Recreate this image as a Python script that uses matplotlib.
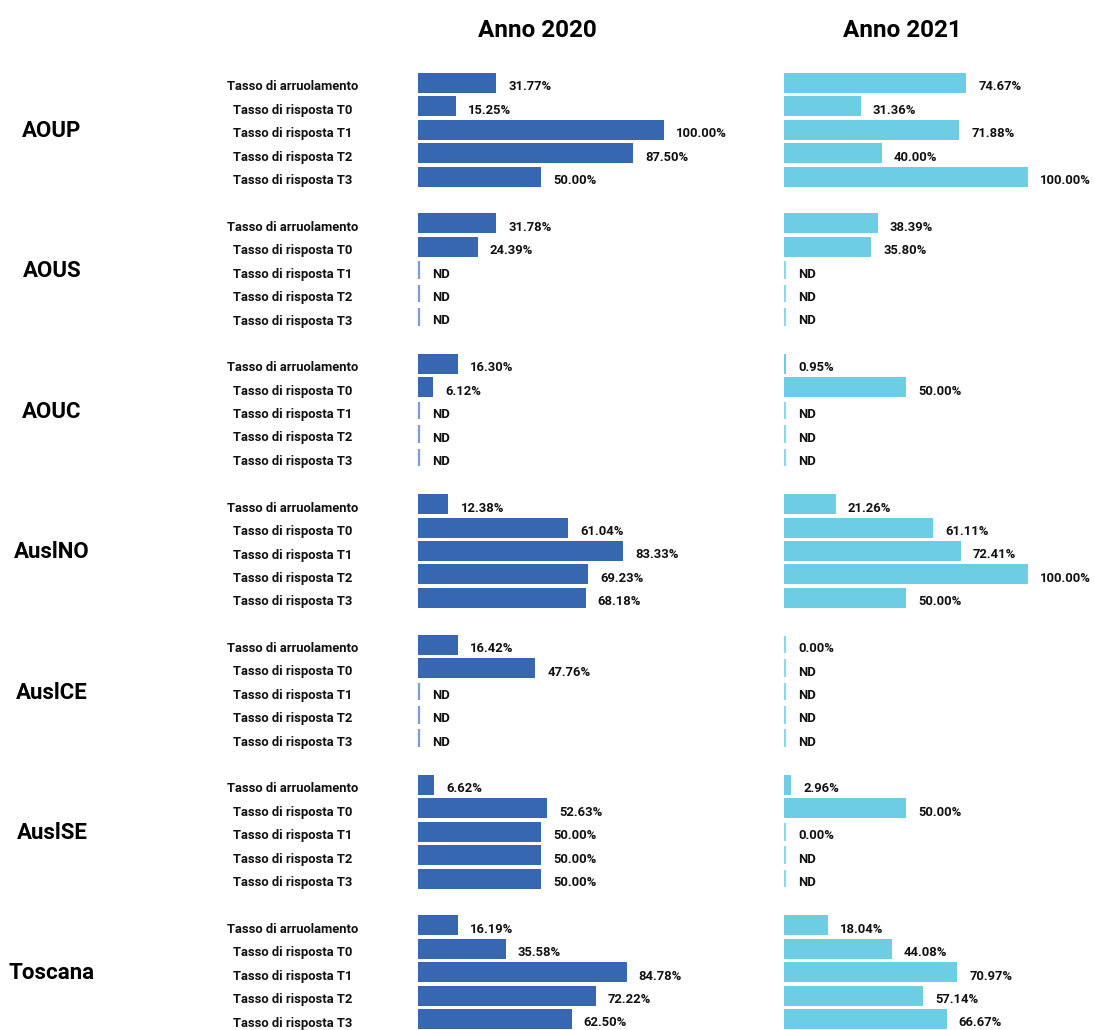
import matplotlib
matplotlib.use("Agg")
import matplotlib.pyplot as plt
import numpy as np

plt.rcParams['font.family'] = ['Roboto', 'DejaVu Sans']

groups = ["AOUP", "AOUS", "AOUC", "AuslNO", "AuslCE", "AuslSE", "Toscana"]
metrics = ["Tasso di arruolamento", "Tasso di risposta T0", "Tasso di risposta T1",
           "Tasso di risposta T2", "Tasso di risposta T3"]
years = ["Anno 2020", "Anno 2021"]

ND = None
values_2020 = [
    [31.77, 15.25, 100.00, 87.50, 50.00],
    [31.78, 24.39, ND, ND, ND],
    [16.30, 6.12, ND, ND, ND],
    [12.38, 61.04, 83.33, 69.23, 68.18],
    [16.42, 47.76, ND, ND, ND],
    [6.62, 52.63, 50.00, 50.00, 50.00],
    [16.19, 35.58, 84.78, 72.22, 62.50],
]
values_2021 = [
    [74.67, 31.36, 71.88, 40.00, 100.00],
    [38.39, 35.80, ND, ND, ND],
    [0.95, 50.00, ND, ND, ND],
    [21.26, 61.11, 72.41, 100.00, 50.00],
    [0.00, ND, ND, ND, ND],
    [2.96, 50.00, 0.00, ND, ND],
    [18.04, 44.08, 70.97, 57.14, 66.67],
]

colors = ["#3767B1", "#6DCDE3"]
line_colors = ["#7E9ED3", "#8ED8EA"]

W, H = 1095, 1030
fig = plt.figure(figsize=(W / 100, H / 100), dpi=100)

row_px = 23.4
y0_px = 83.0
ylim = ((H - y0_px) / row_px, -y0_px / row_px)
text_off = 4.0 / row_px
small_fs = 9.4

def add_axes_px(x0, x1):
    ax = fig.add_axes([x0 / W, 0, (x1 - x0) / W, 1])
    ax.set_ylim(*ylim)
    ax.axis('off')
    return ax

# label axes (full width, pixel x coords)
lab = add_axes_px(0, W)
lab.set_xlim(0, W)

panels = [(418, 664), (784, 1028)]
data = [values_2020, values_2021]

for p, ((x0, x1), vals) in enumerate(zip(panels, data)):
    ax = add_axes_px(x0, x1)
    ax.set_xlim(0, 100)
    px_per_unit = (x1 - x0) / 100.0
    for g, grp in enumerate(vals):
        for r, v in enumerate(grp):
            k = g * 6 + r
            if v is None or v == 0:
                ax.plot([0.45, 0.45], [k - 0.38, k + 0.38], color=line_colors[p],
                        lw=1.6, solid_capstyle='butt', clip_on=False)
                txt = "ND" if v is None else f"{v:.2f}%"
                ax.text(14 / px_per_unit, k + text_off, txt, fontsize=small_fs,
                        fontweight='bold', va='center', ha='left', color='#111111')
            else:
                ax.barh(k, v, height=0.86, color=colors[p], edgecolor='none')
                ax.text(v + 12 / px_per_unit, k + text_off, f"{v:.2f}%", fontsize=small_fs,
                        fontweight='bold', va='center', ha='left', color='#111111',
                        clip_on=False)
    lab.text((x0 + x1) / 2 - 4, -2.25, years[p], fontsize=17.5, fontweight='bold',
             ha='center', va='center', color='#000000')

for g, grp in enumerate(groups):
    for r, m in enumerate(metrics):
        k = g * 6 + r
        lab.text(292.5, k + text_off, m, fontsize=small_fs, fontweight='bold',
                 ha='center', va='center', color='#111111')
    lab.text(52, g * 6 + 2 + 0.05, grp, fontsize=16, fontweight='bold',
             ha='center', va='center', color='#000000')

fig.savefig("out.png", dpi=100)
